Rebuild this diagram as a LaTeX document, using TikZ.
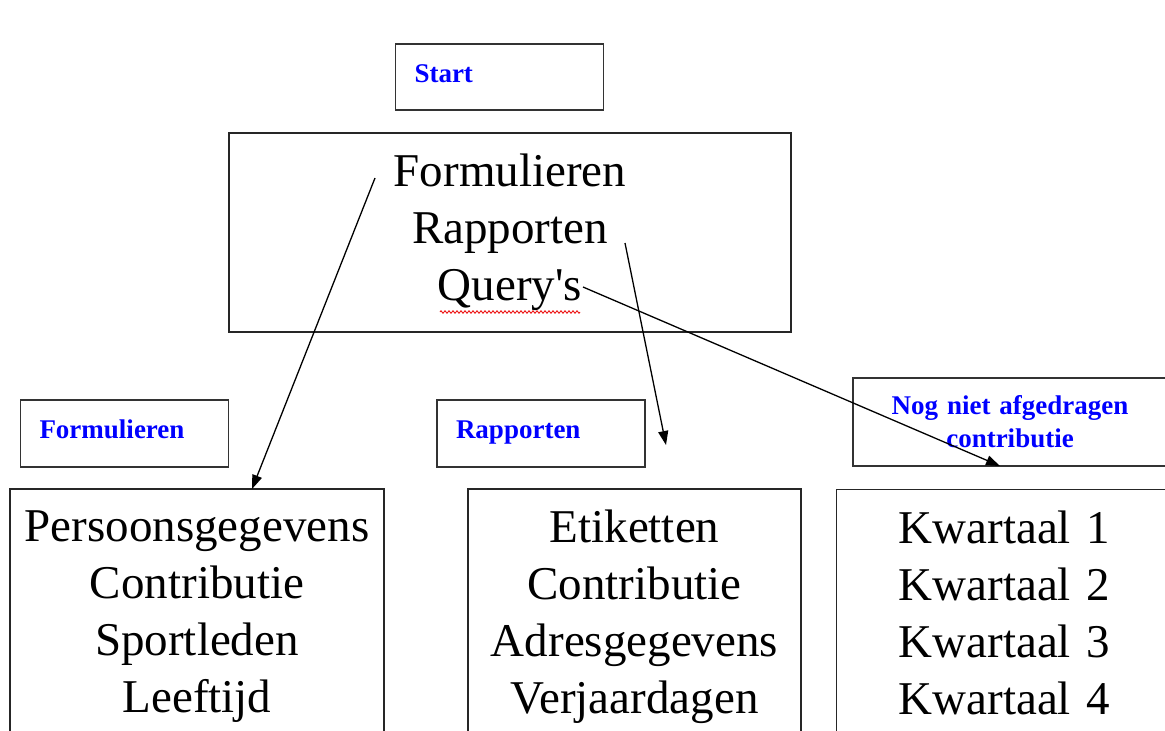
\documentclass[tikz,border=0pt]{standalone}
\usepackage{fontspec}
\setmainfont{Liberation Serif}
\definecolor{labelblue}{RGB}{0,0,255}
\definecolor{spellred}{RGB}{235,0,0}
\newcommand{\kwspace}{\spaceskip=6pt plus 2pt minus 2pt\relax}
\usetikzlibrary{arrows.meta, positioning, decorations.pathmorphing}

\begin{document}
\begin{tikzpicture}[
  x=1pt, y=-1pt,
  lbox/.style={draw=black!80, line width=1.6pt, minimum height=66pt, text width=170pt, text height=20pt, text depth=10pt, inner xsep=19pt, align=left, text=labelblue, font=\fontsize{27}{33}\selectfont\bfseries},
  bigbox/.style={draw=black!85, line width=1.4pt, align=center, font=\fontsize{47}{57}\selectfont},
  link/.style={-{Triangle[length=14pt,width=10pt]}, line width=1.3pt}
]
  \path[use as bounding box, clip] (0,0) rectangle (1165,731);

  % top part
  \node[lbox] (start) at (499.5,77) {Start};
  \node[bigbox, minimum width=562pt, minimum height=199pt] (menu) at (510,232.5) {Formulieren\\Rapporten\\Query\textquotesingle s};
  \draw[spellred, line width=0.8pt, decorate, decoration={zigzag, amplitude=1.3pt, segment length=4pt}] (440,312) -- (580,312);

  % labels
  \node[lbox, minimum height=67pt] (formlbl) at (124.5,433.5) {Formulieren};
  \node[lbox, minimum height=67pt] (raplbl) at (541,433.5) {Rapporten};
  \node[lbox, align=center, text width=276pt, text height=, text depth=, minimum height=88pt] (noglbl) at (1010,422) {Nog niet afgedragen\\contributie};

  % lists
  \node[bigbox, minimum width=374pt, minimum height=256pt] (formlist) at (197,617) {Persoonsgegevens\\Contributie\\Sportleden\\Leeftijd};
  \node[bigbox, minimum width=333pt, minimum height=256pt] (raplist) at (634.5,617) {Etiketten\\Contributie\\Adresgegevens\\Verjaardagen};
  \node[bigbox, anchor=north west, align=left, text width=240pt, inner xsep=62pt, minimum height=246pt, font=\fontsize{47}{57}\selectfont\kwspace] (kwlist) at (836,489) {Kwartaal 1\\Kwartaal 2\\Kwartaal 3\\Kwartaal 4};

  % arrows
  \coordinate (formstart) at (375,178);
  \coordinate (rapstart) at (625,243);
  \coordinate (querystart) at (583,287);
  \coordinate (formend) at (252,489);
  \coordinate (rapend) at (666,445);
  \coordinate (queryend) at (1000,466);
  \draw[link] (formstart) -- (formend);
  \draw[link] (rapstart) -- (rapend);
  \draw[link] (querystart) -- (queryend);
\end{tikzpicture}
\end{document}
